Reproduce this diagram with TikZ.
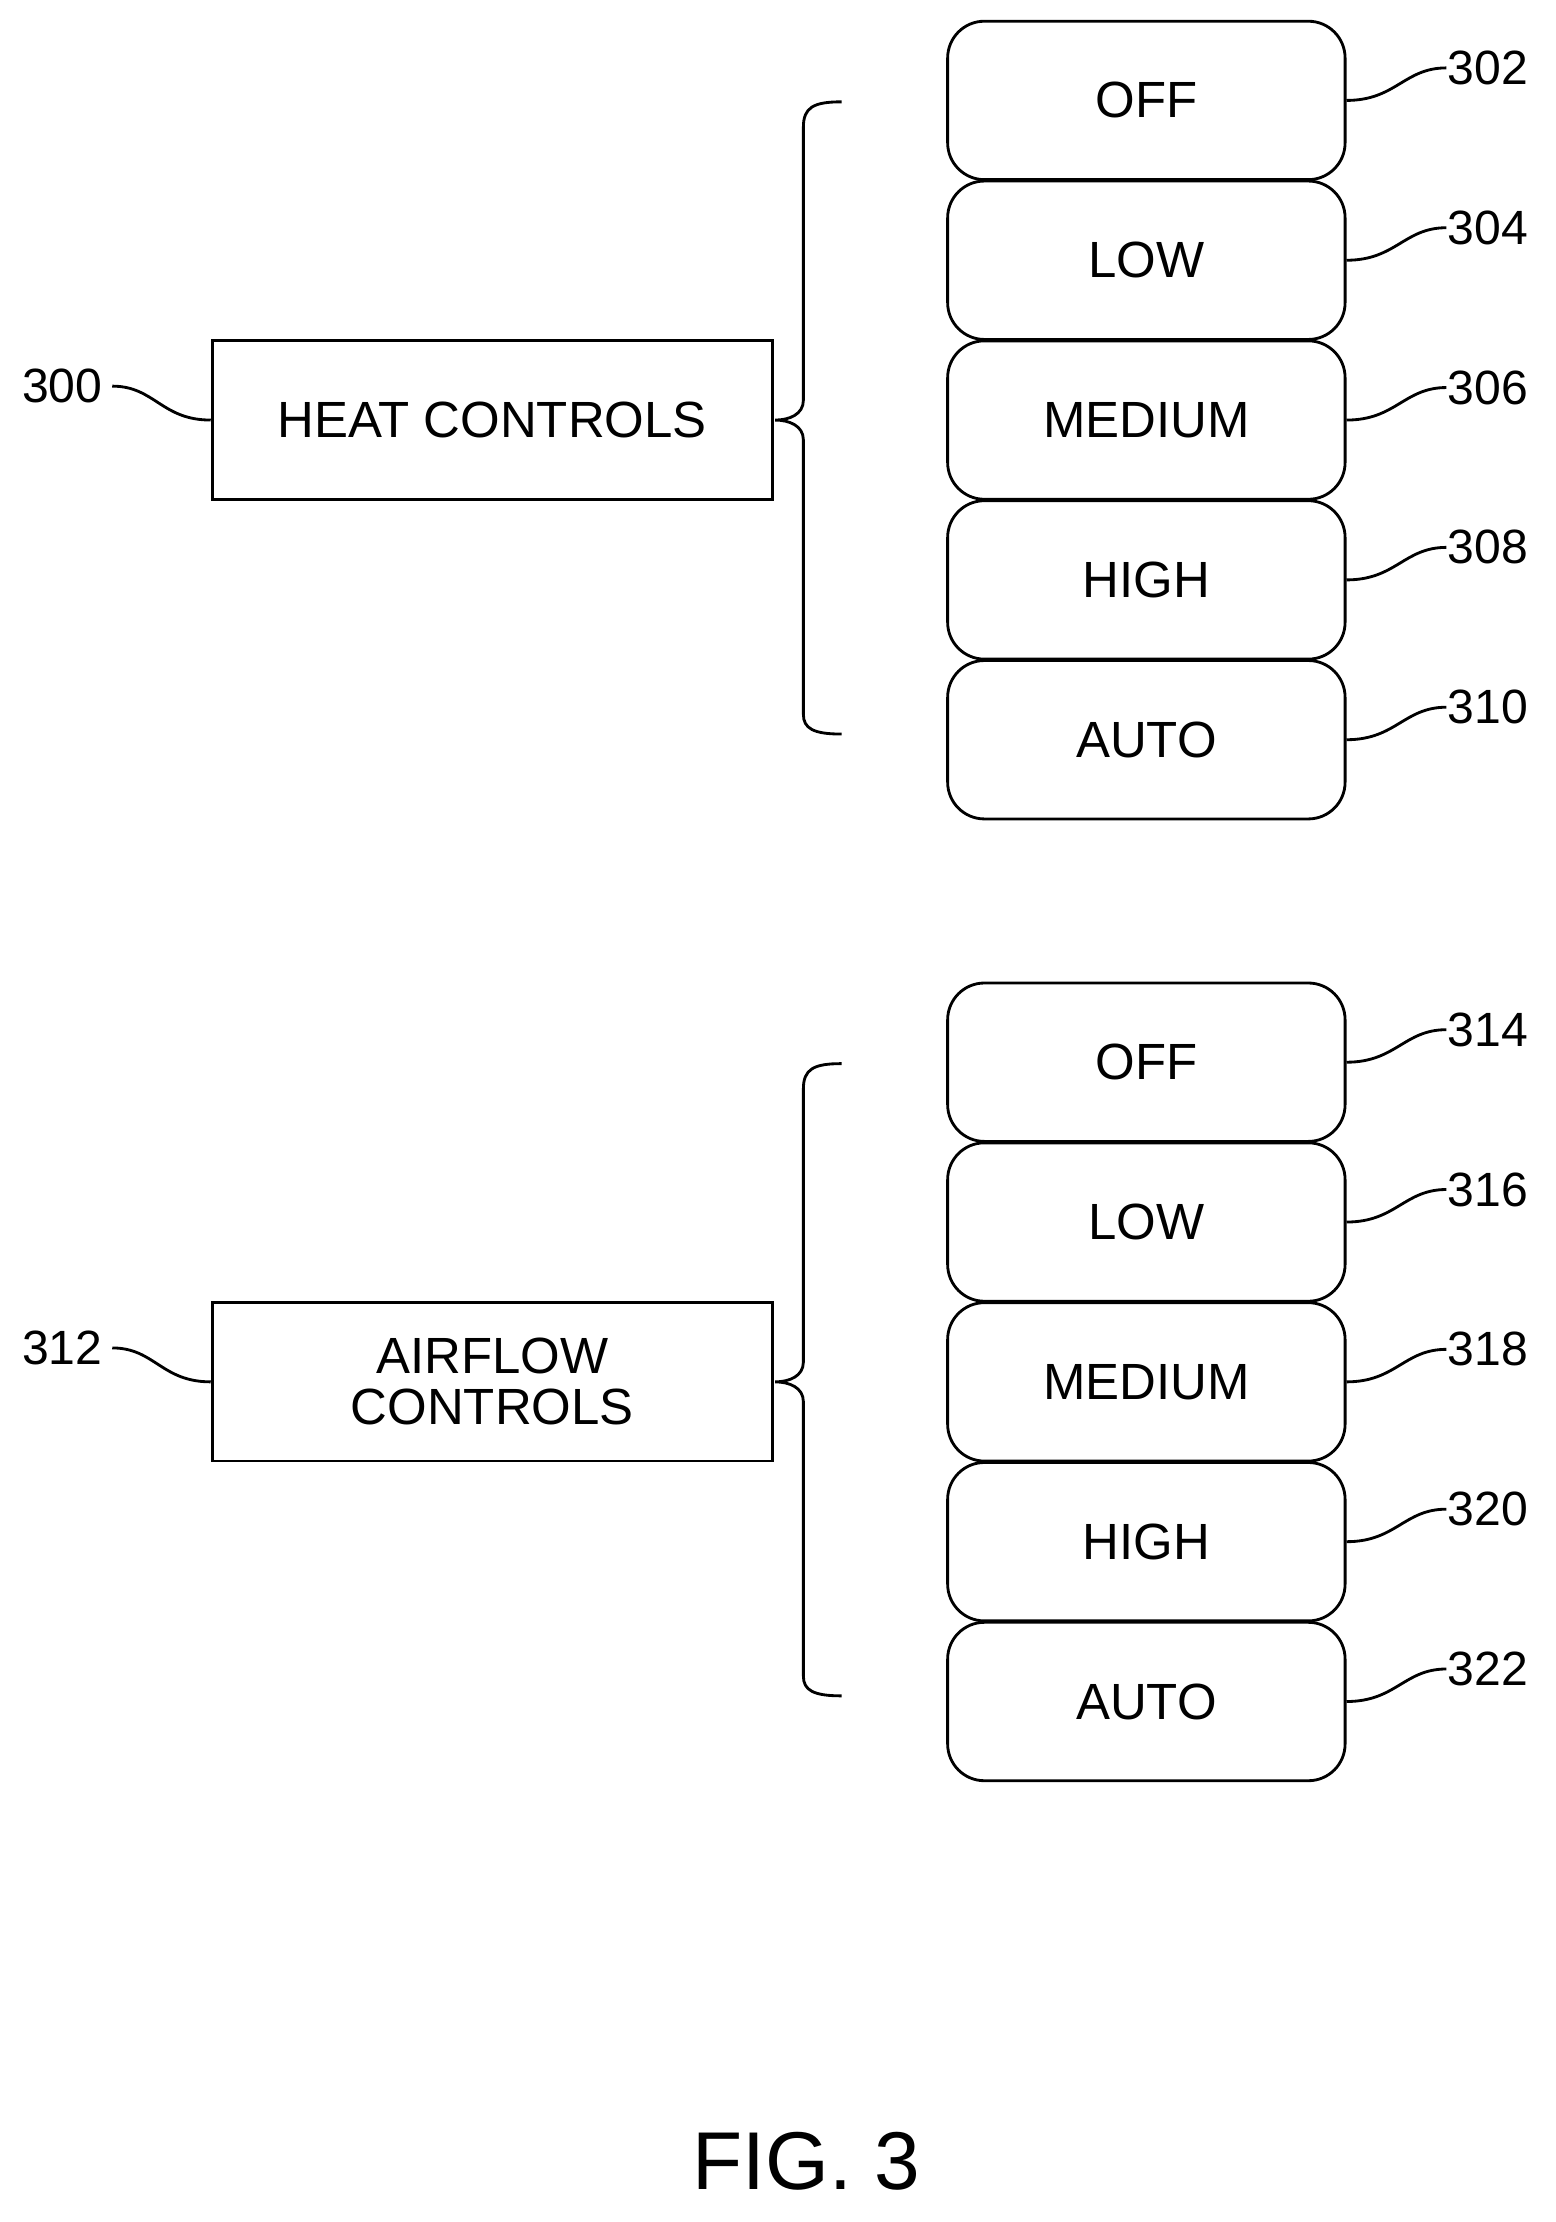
\documentclass[tikz,border=0pt]{standalone}
\usepackage{fontspec}
\setmainfont{Liberation Sans}
\begin{document}
\begin{tikzpicture}[x=1pt,y=-1pt,line width=2pt,
  opt/.style={draw,rounded corners=26pt,minimum width=281pt,minimum height=112pt,inner sep=0pt,font=\fontsize{36}{40}\selectfont},
  ctl/.style={draw,minimum width=396pt,minimum height=112pt,inner sep=0pt,align=center,font=\fontsize{36}{40}\selectfont},
  lbl/.style={font=\fontsize{34}{38}\selectfont,inner sep=0pt}]
\useasboundingbox (0,0) rectangle (1100,1571);
\node[ctl] (heat) at (348,297) {HEAT CONTROLS};
\node[ctl] (air) at (348,977) {AIRFLOW\\[-4pt]CONTROLS};
\foreach \t/\n/\i in {OFF/302/0,LOW/304/1,MEDIUM/306/2,HIGH/308/3,AUTO/310/4}{
  \node[opt] (h\n) at (810.5,71+113*\i) {\t};
  \node[lbl] (l\n) at (1052,48+113*\i) {\n};
  \draw (h\n.east) .. controls +(35,0) and +(-30,0) .. (l\n.west);
}
\foreach \t/\n/\i in {OFF/314/0,LOW/316/1,MEDIUM/318/2,HIGH/320/3,AUTO/322/4}{
  \node[opt] (h\n) at (810.5,751+113*\i) {\t};
  \node[lbl] (l\n) at (1052,728+113*\i) {\n};
  \draw (h\n.east) .. controls +(35,0) and +(-30,0) .. (l\n.west);
}
\node[lbl] (l300) at (44,273) {300};
\node[lbl] (l312) at (44,953) {312};
\draw (l300.east) ++(6,0) .. controls +(30,0) and +(-35,0) .. (heat.west);
\draw (l312.east) ++(6,0) .. controls +(30,0) and +(-35,0) .. (air.west);
\foreach \y in {0,680}{
\draw (595,72+\y) .. controls (575,72+\y) and (568,76+\y) .. (568,90+\y) -- (568,283+\y)
  .. controls (568,293+\y) and (558,297+\y) .. (548,297+\y)
  .. controls (558,297+\y) and (568,301+\y) .. (568,311+\y) -- (568,505+\y)
  .. controls (568,515+\y) and (575,519+\y) .. (595,519+\y);
}
\node[font=\fontsize{58}{62}\selectfont] (fig) at (570,1528) {FIG. 3};
\end{tikzpicture}
\end{document}
